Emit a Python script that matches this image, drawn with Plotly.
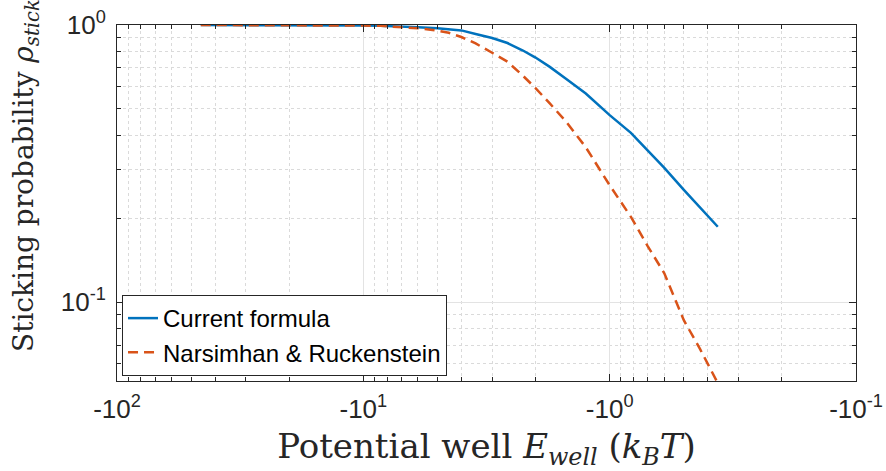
import plotly.graph_objects as go
import numpy as np

# Potential well energy (k_B T)
E_well = [-45.7, -30, -20, -15, -10, -8.5, -7, -6, -5, -4.5, -4, -3.5, -3,
          -2.6, -2.25, -2, -1.75, -1.5, -1.25, -1.0, -0.82, -0.7, -0.6, -0.5,
          -0.43, -0.364]
# Sticking probability, current formula
rho_current = [1.000, 1.000, 0.999, 0.998, 0.996, 0.993, 0.988, 0.981, 0.973,
               0.966, 0.956, 0.928, 0.898, 0.861, 0.809, 0.763, 0.706, 0.638,
               0.566, 0.473, 0.408, 0.352, 0.305, 0.254, 0.219, 0.187]
# Sticking probability, Narsimhan & Ruckenstein
rho_nr = [1.000, 1.000, 0.999, 0.998, 0.995, 0.993, 0.982, 0.973, 0.954,
          0.937, 0.905, 0.858, 0.794, 0.737, 0.656, 0.592, 0.521, 0.447,
          0.362, 0.264, 0.203, 0.159, 0.127, 0.086, 0.0678, 0.051]

x_tickvals = [100, 10, 1, 0.1]
x_ticktext = ["-10<sup>2</sup>", "-10<sup>1</sup>", "-10<sup>0</sup>", "-10<sup>-1</sup>"]
y_tickvals = [0.1, 1]
y_ticktext = ["10<sup>-1</sup>", "10<sup>0</sup>"]

x_minor = [m * d for d in (10, 1, 0.1) for m in range(2, 10)]
y_minor = [m * d for d in (0.01, 0.1) for m in range(2, 10)]

abs_E = [-e for e in E_well]

AX = "#262626"
fig = go.Figure()
fig.add_trace(go.Scatter(x=abs_E, y=rho_current, mode="lines", name="Current formula",
                         line=dict(color="#0072BD", width=2.5)))
fig.add_trace(go.Scatter(x=abs_E, y=rho_nr, mode="lines", name="Narsimhan & Ruckenstein",
                         line=dict(color="#D95319", width=2.5, dash="10px,6px")))

axis_common = dict(
    showline=True, linecolor=AX, linewidth=1, mirror="allticks",
    ticks="inside", ticklen=7, tickcolor=AX, tickwidth=1,
    showgrid=True, gridcolor="#e3e3e3", gridwidth=1,
    tickfont=dict(family="Liberation Sans, Arial, sans-serif", size=26, color=AX),
    zeroline=False, automargin=False,
)

fig.update_xaxes(
    type="log", range=[2, -1], tickmode="array", tickvals=x_tickvals, ticktext=x_ticktext,
    ticklabelstandoff=5,
    minor=dict(tickmode="array", tickvals=x_minor, ticks="inside", ticklen=4, tickcolor=AX,
               showgrid=True, griddash="dot", gridcolor="#dadada", gridwidth=1),
    title=dict(text="Potential well <i>E</i><sub><i>well</i></sub> (<i>k</i><sub><i>B</i></sub><i>T</i>)",
               font=dict(family="DejaVu Serif, serif", size=34, color=AX), standoff=10),
    **axis_common,
)
fig.update_yaxes(
    type="log", range=[np.log10(0.0519), 0], tickmode="array", tickvals=y_tickvals, ticktext=y_ticktext,
    ticklabelstandoff=5,
    minor=dict(tickmode="array", tickvals=y_minor, ticks="inside", ticklen=4, tickcolor=AX,
               showgrid=True, griddash="dot", gridcolor="#dadada", gridwidth=1),
    **axis_common,
)

fig.add_annotation(
    text="Sticking probability <i>ρ</i><sub><i>stick</i></sub>",
    xref="paper", yref="paper", x=-0.123, y=0.576, xanchor="center", yanchor="middle",
    textangle=-90, showarrow=False,
    font=dict(family="DejaVu Serif, serif", size=28, color=AX),
)

fig.update_layout(
    width=886, height=471,
    margin=dict(l=117, r=30, t=25, b=90),
    paper_bgcolor="white", plot_bgcolor="white",
    showlegend=True,
    legend=dict(x=0.0068, y=0.014, xanchor="left", yanchor="bottom",
                bgcolor="white", bordercolor=AX, borderwidth=1,
                font=dict(family="Liberation Sans, Arial, sans-serif", size=24, color="black"),
                itemwidth=30, tracegroupgap=0),
)

fig.write_html("out.html")
